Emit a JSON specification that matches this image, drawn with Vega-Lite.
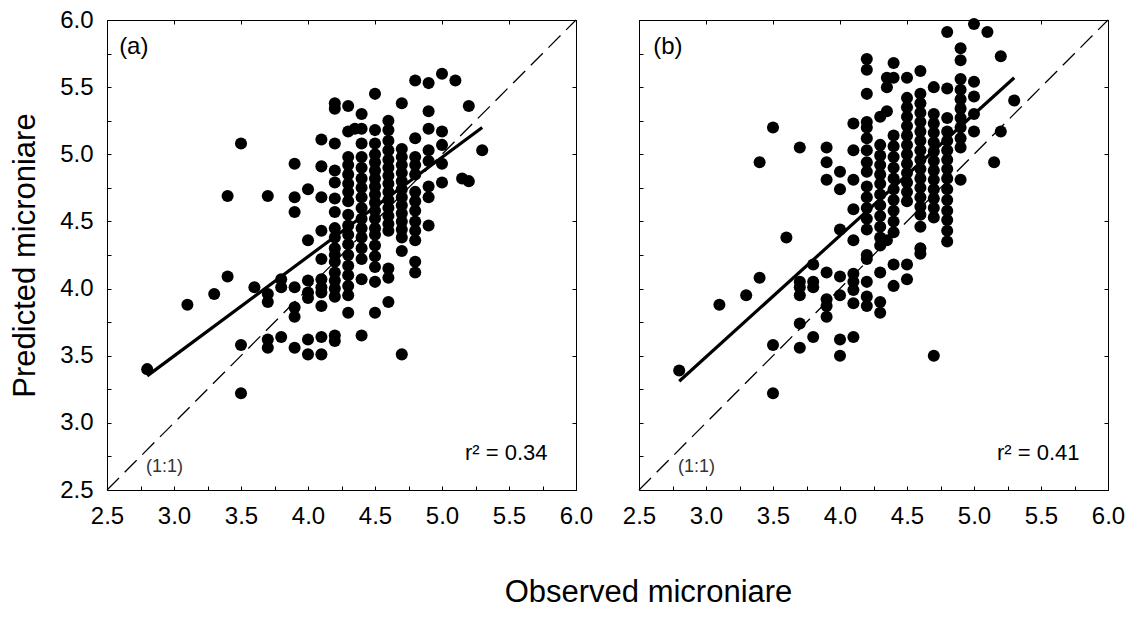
{
"$schema":"https://vega.github.io/schema/vega-lite/v6.json",
"autosize":"none",
"padding":{"left":107,"top":20,"right":1027,"bottom":598},
"background":"white",
"datasets":{
"a":[{"o":2.8,"p":3.40},{"o":3.1,"p":3.88},{"o":3.3,"p":3.96},{"o":3.4,"p":4.09},{"o":3.4,"p":4.69},{"o":3.5,"p":5.08},{"o":3.5,"p":3.58},{"o":3.5,"p":3.22},{"o":3.6,"p":4.01},
{"o":3.7,"p":4.69},{"o":3.7,"p":3.96},{"o":3.7,"p":3.90},{"o":3.7,"p":3.62},{"o":3.7,"p":3.56},
{"o":3.8,"p":4.07},{"o":3.8,"p":4.01},{"o":3.8,"p":3.64},
{"o":3.9,"p":4.93},{"o":3.9,"p":4.68},{"o":3.9,"p":4.57},{"o":3.9,"p":4.01},{"o":3.9,"p":3.86},{"o":3.9,"p":3.79},{"o":3.9,"p":3.56},
{"o":4.0,"p":4.74},{"o":4.0,"p":4.36},{"o":4.0,"p":4.06},{"o":4.0,"p":3.97},{"o":4.0,"p":3.93},{"o":4.0,"p":3.62},{"o":4.0,"p":3.51},
{"o":4.1,"p":5.11},{"o":4.1,"p":4.91},{"o":4.1,"p":4.68},{"o":4.1,"p":4.43},{"o":4.1,"p":4.22},{"o":4.1,"p":4.07},{"o":4.1,"p":4.01},{"o":4.1,"p":3.97},{"o":4.1,"p":3.87},{"o":4.1,"p":3.64},{"o":4.1,"p":3.51},
{"o":4.2,"p":5.38},{"o":4.2,"p":5.34},{"o":4.2,"p":5.08},{"o":4.2,"p":4.88},{"o":4.2,"p":4.79},{"o":4.2,"p":4.67},{"o":4.2,"p":4.57},{"o":4.2,"p":4.45},{"o":4.2,"p":4.38},{"o":4.2,"p":4.30},{"o":4.2,"p":4.25},{"o":4.2,"p":4.20},{"o":4.2,"p":4.12},{"o":4.2,"p":4.06},{"o":4.2,"p":4.00},{"o":4.2,"p":3.94},{"o":4.2,"p":3.65},{"o":4.2,"p":3.61},
{"o":4.3,"p":5.36},{"o":4.3,"p":5.17},{"o":4.3,"p":4.98},{"o":4.3,"p":4.92},{"o":4.3,"p":4.85},{"o":4.3,"p":4.78},{"o":4.3,"p":4.72},{"o":4.3,"p":4.65},{"o":4.3,"p":4.55},{"o":4.3,"p":4.47},{"o":4.3,"p":4.40},{"o":4.3,"p":4.33},{"o":4.3,"p":4.25},{"o":4.3,"p":4.17},{"o":4.3,"p":4.10},{"o":4.3,"p":4.02},{"o":4.3,"p":3.95},{"o":4.3,"p":3.82},
{"o":4.35,"p":5.19},
{"o":4.4,"p":5.30},{"o":4.4,"p":5.19},{"o":4.4,"p":5.08},{"o":4.4,"p":4.98},{"o":4.4,"p":4.90},{"o":4.4,"p":4.82},{"o":4.4,"p":4.75},{"o":4.4,"p":4.68},{"o":4.4,"p":4.60},{"o":4.4,"p":4.52},{"o":4.4,"p":4.45},{"o":4.4,"p":4.38},{"o":4.4,"p":4.30},{"o":4.4,"p":4.22},{"o":4.4,"p":4.07},{"o":4.4,"p":3.65},
{"o":4.5,"p":5.45},{"o":4.5,"p":5.18},{"o":4.5,"p":5.08},{"o":4.5,"p":5.00},{"o":4.5,"p":4.94},{"o":4.5,"p":4.88},{"o":4.5,"p":4.82},{"o":4.5,"p":4.76},{"o":4.5,"p":4.70},{"o":4.5,"p":4.64},{"o":4.5,"p":4.58},{"o":4.5,"p":4.52},{"o":4.5,"p":4.45},{"o":4.5,"p":4.40},{"o":4.5,"p":4.32},{"o":4.5,"p":4.24},{"o":4.5,"p":4.16},{"o":4.5,"p":4.05},{"o":4.5,"p":3.82},
{"o":4.6,"p":5.25},{"o":4.6,"p":5.18},{"o":4.6,"p":5.10},{"o":4.6,"p":5.03},{"o":4.6,"p":4.96},{"o":4.6,"p":4.90},{"o":4.6,"p":4.84},{"o":4.6,"p":4.78},{"o":4.6,"p":4.72},{"o":4.6,"p":4.66},{"o":4.6,"p":4.60},{"o":4.6,"p":4.54},{"o":4.6,"p":4.48},{"o":4.6,"p":4.43},{"o":4.6,"p":4.15},{"o":4.6,"p":4.08},{"o":4.6,"p":3.90},
{"o":4.7,"p":5.38},{"o":4.7,"p":5.04},{"o":4.7,"p":4.98},{"o":4.7,"p":4.92},{"o":4.7,"p":4.86},{"o":4.7,"p":4.80},{"o":4.7,"p":4.74},{"o":4.7,"p":4.68},{"o":4.7,"p":4.62},{"o":4.7,"p":4.56},{"o":4.7,"p":4.50},{"o":4.7,"p":4.44},{"o":4.7,"p":4.38},{"o":4.7,"p":4.28},{"o":4.7,"p":3.51},
{"o":4.8,"p":5.55},{"o":4.8,"p":5.12},{"o":4.8,"p":4.98},{"o":4.8,"p":4.92},{"o":4.8,"p":4.85},{"o":4.8,"p":4.72},{"o":4.8,"p":4.65},{"o":4.8,"p":4.58},{"o":4.8,"p":4.50},{"o":4.8,"p":4.43},{"o":4.8,"p":4.36},{"o":4.8,"p":4.20},{"o":4.8,"p":4.12},
{"o":4.9,"p":5.53},{"o":4.9,"p":5.32},{"o":4.9,"p":5.19},{"o":4.9,"p":5.03},{"o":4.9,"p":4.95},{"o":4.9,"p":4.76},{"o":4.9,"p":4.68},{"o":4.9,"p":4.47},
{"o":5.0,"p":5.60},{"o":5.0,"p":5.17},{"o":5.0,"p":5.07},{"o":5.0,"p":4.93},{"o":5.0,"p":4.79},
{"o":5.1,"p":5.55},{"o":5.15,"p":4.82},{"o":5.2,"p":5.36},{"o":5.2,"p":4.80},{"o":5.3,"p":5.03}],
"b":[{"o":2.8,"p":3.39},{"o":3.1,"p":3.88},{"o":3.3,"p":3.95},{"o":3.4,"p":4.08},{"o":3.4,"p":4.94},{"o":3.5,"p":5.20},{"o":3.5,"p":3.58},{"o":3.5,"p":3.22},{"o":3.6,"p":4.38},
{"o":3.7,"p":5.05},{"o":3.7,"p":4.05},{"o":3.7,"p":4.01},{"o":3.7,"p":3.95},{"o":3.7,"p":3.74},{"o":3.7,"p":3.56},
{"o":3.8,"p":4.18},{"o":3.8,"p":4.05},{"o":3.8,"p":4.01},{"o":3.8,"p":3.64},
{"o":3.9,"p":5.05},{"o":3.9,"p":4.94},{"o":3.9,"p":4.81},{"o":3.9,"p":4.12},{"o":3.9,"p":3.92},{"o":3.9,"p":3.87},{"o":3.9,"p":3.79},
{"o":4.0,"p":4.87},{"o":4.0,"p":4.74},{"o":4.0,"p":4.44},{"o":4.0,"p":4.09},{"o":4.0,"p":3.95},{"o":4.0,"p":3.62},{"o":4.0,"p":3.50},
{"o":4.1,"p":5.23},{"o":4.1,"p":5.03},{"o":4.1,"p":4.81},{"o":4.1,"p":4.59},{"o":4.1,"p":4.36},{"o":4.1,"p":4.11},{"o":4.1,"p":4.05},{"o":4.1,"p":3.99},{"o":4.1,"p":3.89},{"o":4.1,"p":3.64},
{"o":4.2,"p":5.71},{"o":4.2,"p":5.63},{"o":4.2,"p":5.45},{"o":4.2,"p":5.24},{"o":4.2,"p":5.20},{"o":4.2,"p":5.12},{"o":4.2,"p":5.03},{"o":4.2,"p":4.94},{"o":4.2,"p":4.87},{"o":4.2,"p":4.76},{"o":4.2,"p":4.68},{"o":4.2,"p":4.60},{"o":4.2,"p":4.52},{"o":4.2,"p":4.44},{"o":4.2,"p":4.25},{"o":4.2,"p":4.22},{"o":4.2,"p":4.05},{"o":4.2,"p":3.94},{"o":4.2,"p":3.87},
{"o":4.3,"p":5.28},{"o":4.3,"p":5.07},{"o":4.3,"p":4.99},{"o":4.3,"p":4.92},{"o":4.3,"p":4.85},{"o":4.3,"p":4.78},{"o":4.3,"p":4.70},{"o":4.3,"p":4.62},{"o":4.3,"p":4.54},{"o":4.3,"p":4.46},{"o":4.3,"p":4.38},{"o":4.3,"p":4.32},{"o":4.3,"p":4.12},{"o":4.3,"p":3.90},{"o":4.3,"p":3.82},
{"o":4.35,"p":5.57},{"o":4.35,"p":5.50},{"o":4.35,"p":5.32},{"o":4.35,"p":4.36},
{"o":4.4,"p":5.68},{"o":4.4,"p":5.57},{"o":4.4,"p":5.14},{"o":4.4,"p":5.06},{"o":4.4,"p":4.98},{"o":4.4,"p":4.90},{"o":4.4,"p":4.82},{"o":4.4,"p":4.74},{"o":4.4,"p":4.66},{"o":4.4,"p":4.58},{"o":4.4,"p":4.50},{"o":4.4,"p":4.42},{"o":4.4,"p":4.18},{"o":4.4,"p":4.02},
{"o":4.5,"p":5.57},{"o":4.5,"p":5.42},{"o":4.5,"p":5.35},{"o":4.5,"p":5.28},{"o":4.5,"p":5.21},{"o":4.5,"p":5.14},{"o":4.5,"p":5.07},{"o":4.5,"p":5.00},{"o":4.5,"p":4.93},{"o":4.5,"p":4.86},{"o":4.5,"p":4.79},{"o":4.5,"p":4.72},{"o":4.5,"p":4.65},{"o":4.5,"p":4.18},{"o":4.5,"p":4.07},
{"o":4.6,"p":5.62},{"o":4.6,"p":5.45},{"o":4.6,"p":5.38},{"o":4.6,"p":5.31},{"o":4.6,"p":5.24},{"o":4.6,"p":5.17},{"o":4.6,"p":5.10},{"o":4.6,"p":5.03},{"o":4.6,"p":4.96},{"o":4.6,"p":4.89},{"o":4.6,"p":4.82},{"o":4.6,"p":4.75},{"o":4.6,"p":4.68},{"o":4.6,"p":4.61},{"o":4.6,"p":4.55},{"o":4.6,"p":4.46},{"o":4.6,"p":4.30},{"o":4.6,"p":4.26},
{"o":4.7,"p":5.50},{"o":4.7,"p":5.30},{"o":4.7,"p":5.23},{"o":4.7,"p":5.16},{"o":4.7,"p":5.09},{"o":4.7,"p":5.02},{"o":4.7,"p":4.95},{"o":4.7,"p":4.88},{"o":4.7,"p":4.81},{"o":4.7,"p":4.74},{"o":4.7,"p":4.67},{"o":4.7,"p":4.60},{"o":4.7,"p":4.53},{"o":4.7,"p":3.50},
{"o":4.8,"p":5.91},{"o":4.8,"p":5.49},{"o":4.8,"p":5.27},{"o":4.8,"p":5.17},{"o":4.8,"p":5.10},{"o":4.8,"p":5.03},{"o":4.8,"p":4.96},{"o":4.8,"p":4.89},{"o":4.8,"p":4.82},{"o":4.8,"p":4.74},{"o":4.8,"p":4.66},{"o":4.8,"p":4.58},{"o":4.8,"p":4.51},{"o":4.8,"p":4.43},{"o":4.8,"p":4.35},
{"o":4.9,"p":5.79},{"o":4.9,"p":5.70},{"o":4.9,"p":5.56},{"o":4.9,"p":5.48},{"o":4.9,"p":5.41},{"o":4.9,"p":5.34},{"o":4.9,"p":5.27},{"o":4.9,"p":5.20},{"o":4.9,"p":5.12},{"o":4.9,"p":5.05},{"o":4.9,"p":4.81},
{"o":5.0,"p":5.97},{"o":5.0,"p":5.54},{"o":5.0,"p":5.43},{"o":5.0,"p":5.30},{"o":5.0,"p":5.17},
{"o":5.1,"p":5.91},{"o":5.15,"p":4.94},{"o":5.2,"p":5.73},{"o":5.2,"p":5.17},{"o":5.3,"p":5.40}]
},
"spacing":63,
"bounds":"flush",
"hconcat":[
{"width":469,"height":470,
 "layer":[
  {"data":{"values":[{"o":2.5,"p":2.5},{"o":6,"p":6}]},
   "mark":{"type":"line","color":"black","strokeWidth":1.3,"strokeDash":[17,8]},
   "encoding":{
    "x":{"field":"o","type":"quantitative","scale":{"domain":[2.5,6],"nice":false,"zero":false},"axis":{"orient":"top","values":[2.5,3,3.5,4,4.5,5,5.5,6],"labels":false,"title":null}},
    "y":{"field":"p","type":"quantitative","scale":{"domain":[2.5,6],"nice":false,"zero":false},"axis":{"orient":"right","values":[2.5,3,3.5,4,4.5,5,5.5,6],"labels":false,"title":null}}}},
  {"data":{"values":[{"o":2.8,"p":3.35},{"o":5.3,"p":5.2}]},
   "mark":{"type":"line","color":"black","strokeWidth":3.2},
   "encoding":{"x":{"field":"o","type":"quantitative","axis":null},"y":{"field":"p","type":"quantitative","axis":null}}},
  {"data":{"name":"a"},
   "mark":{"type":"circle","color":"black","opacity":1,"size":145},
   "encoding":{
    "x":{"field":"o","type":"quantitative","axis":{"orient":"bottom","values":[2.5,2.75,3,3.25,3.5,3.75,4,4.25,4.5,4.75,5,5.25,5.5,5.75,6],"labelExpr":"abs(datum.value*2-round(datum.value*2))<0.001 ? format(datum.value,'.1f') : ''","title":"Observed microniare","titleX":541,"titleY":102,"titleBaseline":"middle","titleAlign":"center"}},
    "y":{"field":"p","type":"quantitative","axis":{"orient":"left","values":[2.5,2.75,3,3.25,3.5,3.75,4,4.25,4.5,4.75,5,5.25,5.5,5.75,6],"labelExpr":"abs(datum.value*2-round(datum.value*2))<0.001 ? format(datum.value,'.1f') : ''","title":"Predicted microniare","titleX":-82,"titleY":235,"titleBaseline":"middle","titleAlign":"center","titleAngle":-90}}}},
  {"data":{"values":[{"o":2.7,"p":5.80,"t":"(a)"}]},
   "mark":{"type":"text","fontSize":24,"color":"black","align":"center","baseline":"middle"},
   "encoding":{"x":{"field":"o","type":"quantitative","axis":null},"y":{"field":"p","type":"quantitative","axis":null},"text":{"field":"t"}}},
  {"data":{"values":[{"o":2.929,"p":2.672,"t":"(1:1)"}]},
   "mark":{"type":"text","fontSize":18,"color":"#333333","align":"center","baseline":"middle"},
   "encoding":{"x":{"field":"o","type":"quantitative","axis":null},"y":{"field":"p","type":"quantitative","axis":null},"text":{"field":"t"}}},
  {"data":{"values":[{"o":5.479,"p":2.778,"t":"r² = 0.34"}]},
   "mark":{"type":"text","fontSize":22,"color":"black","align":"center","baseline":"middle"},
   "encoding":{"x":{"field":"o","type":"quantitative","axis":null},"y":{"field":"p","type":"quantitative","axis":null},"text":{"field":"t"}}}
 ],
 "resolve":{"axis":{"x":"independent","y":"independent"}}
},
{"width":469,"height":470,
 "layer":[
  {"data":{"values":[{"o":2.5,"p":2.5},{"o":6,"p":6}]},
   "mark":{"type":"line","color":"black","strokeWidth":1.3,"strokeDash":[17,8]},
   "encoding":{
    "x":{"field":"o","type":"quantitative","scale":{"domain":[2.5,6],"nice":false,"zero":false},"axis":{"orient":"top","values":[2.5,3,3.5,4,4.5,5,5.5,6],"labels":false,"title":null}},
    "y":{"field":"p","type":"quantitative","scale":{"domain":[2.5,6],"nice":false,"zero":false},"axis":{"orient":"right","values":[2.5,3,3.5,4,4.5,5,5.5,6],"labels":false,"title":null}}}},
  {"data":{"values":[{"o":2.8,"p":3.31},{"o":5.3,"p":5.57}]},
   "mark":{"type":"line","color":"black","strokeWidth":3.2},
   "encoding":{"x":{"field":"o","type":"quantitative","axis":null},"y":{"field":"p","type":"quantitative","axis":null}}},
  {"data":{"name":"b"},
   "mark":{"type":"circle","color":"black","opacity":1,"size":145},
   "encoding":{
    "x":{"field":"o","type":"quantitative","axis":{"orient":"bottom","values":[2.5,2.75,3,3.25,3.5,3.75,4,4.25,4.5,4.75,5,5.25,5.5,5.75,6],"labelExpr":"abs(datum.value*2-round(datum.value*2))<0.001 ? format(datum.value,'.1f') : ''","title":null}},
    "y":{"field":"p","type":"quantitative","axis":{"orient":"left","values":[2.5,2.75,3,3.25,3.5,3.75,4,4.25,4.5,4.75,5,5.25,5.5,5.75,6],"labels":false,"title":null}}}},
  {"data":{"values":[{"o":2.716,"p":5.80,"t":"(b)"}]},
   "mark":{"type":"text","fontSize":24,"color":"black","align":"center","baseline":"middle"},
   "encoding":{"x":{"field":"o","type":"quantitative","axis":null},"y":{"field":"p","type":"quantitative","axis":null},"text":{"field":"t"}}},
  {"data":{"values":[{"o":2.929,"p":2.672,"t":"(1:1)"}]},
   "mark":{"type":"text","fontSize":18,"color":"#333333","align":"center","baseline":"middle"},
   "encoding":{"x":{"field":"o","type":"quantitative","axis":null},"y":{"field":"p","type":"quantitative","axis":null},"text":{"field":"t"}}},
  {"data":{"values":[{"o":5.479,"p":2.778,"t":"r² = 0.41"}]},
   "mark":{"type":"text","fontSize":22,"color":"black","align":"center","baseline":"middle"},
   "encoding":{"x":{"field":"o","type":"quantitative","axis":null},"y":{"field":"p","type":"quantitative","axis":null},"text":{"field":"t"}}}
 ],
 "resolve":{"axis":{"x":"independent","y":"independent"}}
}
],
"config":{
 "font":"Liberation Sans",
 "view":{"stroke":"black","strokeWidth":1},
 "axis":{"grid":false,"domain":false,"ticks":true,"tickColor":"black","tickSize":-4,"tickWidth":1,"labelFont":"Liberation Sans","labelFontSize":24,"labelColor":"black","labelOverlap":false,"labelFlush":false,"labelPadding":18,"titleFont":"Liberation Sans","titleFontSize":31,"titleFontWeight":"normal","titleColor":"black"}
}
}
